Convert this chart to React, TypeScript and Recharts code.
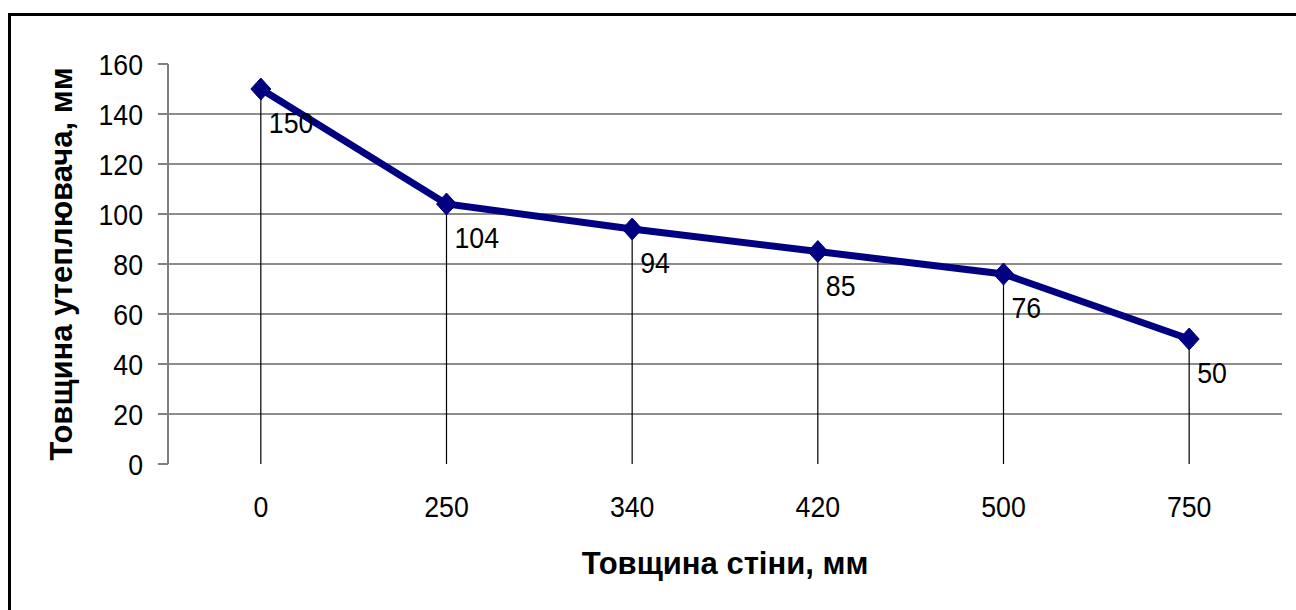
import React from 'react';
import { LineChart, Line, XAxis, YAxis, CartesianGrid, ReferenceLine, LabelList } from 'recharts';

const categories = ['0', '250', '340', '420', '500', '750'];
const values = [150, 104, 94, 85, 76, 50];
const yTicks = [0, 20, 40, 60, 80, 100, 120, 140, 160];
const gridValues = [20, 40, 60, 80, 100, 120, 140];
const boundaryTicks = [-0.5, 0.5, 1.5, 2.5, 3.5, 4.5, 5.5];
const xTitle = 'Товщина стіни, мм';
const yTitle = 'Товщина утеплювача, мм';

const data = categories.map((c, i) => ({ idx: i, name: c, value: values[i] }));

const FONT = 'Arial, "Liberation Sans", sans-serif';
const FS = 30;
const SX = 0.89;
const TITLE_FS = 31;

const Diamond = (p: any) => {
  const { cx, cy, index } = p;
  if (cx == null || cy == null) return <g key={index} />;
  const rx = 10;
  const ry = 11;
  return (
    <path
      key={index}
      d={`M${cx} ${cy - ry} L${cx + rx} ${cy} L${cx} ${cy + ry} L${cx - rx} ${cy} Z`}
      fill="#000080"
      stroke="#000080"
      strokeWidth={1}
    />
  );
};

const DataLabel = (p: any) => {
  const { x, y, value, index } = p;
  return (
    <text
      key={index}
      transform={`translate(${x + 8},${y + 44}) scale(${SX},1)`}
      fontSize={FS}
      fontFamily={FONT}
      fill="#000"
      textAnchor="start"
    >
      {value}
    </text>
  );
};

const YTick = (p: any) => {
  const { x, y, payload } = p;
  return (
    <text
      transform={`translate(${x},${y}) scale(${SX},1)`}
      dy="0.36em"
      textAnchor="end"
      fontSize={FS}
      fontFamily={FONT}
      fill="#000"
    >
      {payload.value}
    </text>
  );
};

const XTick = (p: any) => {
  const { x, y, payload } = p;
  return (
    <text
      transform={`translate(${x},${y + 53}) scale(${SX},1)`}
      textAnchor="middle"
      fontSize={FS}
      fontFamily={FONT}
      fill="#000"
    >
      {categories[payload.value]}
    </text>
  );
};

export default function App() {
  return (
    <div style={{ position: 'absolute', left: 0, top: 0, width: 1296, height: 610, overflow: 'hidden', background: '#fff' }}>
      <div
        style={{
          position: 'absolute',
          left: 8,
          top: 13,
          width: 1400,
          height: 700,
          border: '3px solid #000',
          boxSizing: 'border-box',
        }}
      />
      <div style={{ position: 'absolute', left: 0, top: 0 }}>
        <LineChart
          width={1296}
          height={610}
          data={data}
          margin={{ top: 64, right: 14, bottom: 26, left: 48 }}
        >
          <CartesianGrid horizontal vertical={false} horizontalValues={gridValues} stroke="#1a1a1a" strokeWidth={1} />
          <XAxis
            xAxisId="b"
            type="number"
            dataKey="idx"
            domain={[-0.5, 5.5]}
            ticks={boundaryTicks}
            height={0}
            tickFormatter={() => ''}
            tickSize={9}
            axisLine={{ stroke: '#808080', strokeWidth: 2 }}
            tickLine={{ stroke: '#808080', strokeWidth: 2 }}
          />
          <XAxis
            type="number"
            dataKey="idx"
            domain={[-0.5, 5.5]}
            ticks={[0, 1, 2, 3, 4, 5]}
            height={120}
            axisLine={false}
            tickLine={false}
            tickSize={0}
            tickMargin={0}
            tick={XTick}
            label={{
              content: (lp: any) => {
                const vb = lp.viewBox;
                return (
                  <text
                    x={vb.x + vb.width / 2}
                    y={vb.y + 99}
                    dy="0.36em"
                    textAnchor="middle"
                    fontSize={TITLE_FS}
                    fontWeight="bold"
                    fontFamily={FONT}
                    fill="#000"
                  >
                    {xTitle}
                  </text>
                );
              },
            }}
          />
          <YAxis
            domain={[0, 160]}
            ticks={yTicks}
            width={120}
            interval={0}
            tickSize={10}
            tickMargin={15}
            axisLine={{ stroke: '#808080', strokeWidth: 2 }}
            tickLine={{ stroke: '#808080', strokeWidth: 2 }}
            tick={YTick}
            label={{
              content: (lp: any) => {
                const vb = lp.viewBox;
                const cx = vb.x + 13;
                const cy = vb.y + vb.height / 2;
                return (
                  <text
                    x={cx}
                    y={cy}
                    dy="0.36em"
                    transform={`rotate(-90 ${cx} ${cy})`}
                    textAnchor="middle"
                    fontSize={TITLE_FS}
                    fontWeight="bold"
                    fontFamily={FONT}
                    fill="#000"
                  >
                    {yTitle}
                  </text>
                );
              },
            }}
          />
          {data.map((d) => (
            <ReferenceLine
              key={d.idx}
              segment={[
                { x: d.idx, y: 0 },
                { x: d.idx, y: d.value },
              ]}
              stroke="#000"
              strokeWidth={1.2}
            />
          ))}
          <Line
            type="linear"
            dataKey="value"
            stroke="#000080"
            strokeWidth={7}
            dot={Diamond}
            activeDot={false}
            isAnimationActive={false}
          >
            <LabelList dataKey="value" content={DataLabel} />
          </Line>
        </LineChart>
      </div>
    </div>
  );
}
